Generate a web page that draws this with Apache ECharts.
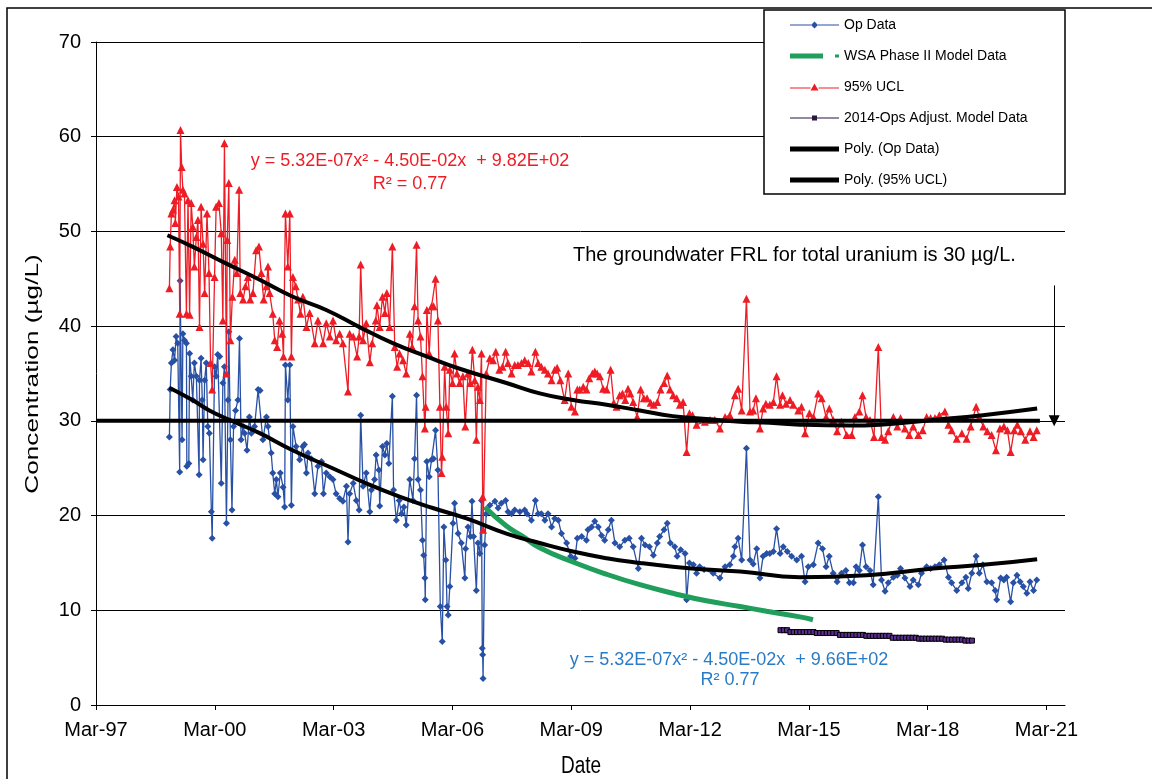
<!doctype html>
<html lang="en">
<head>
<meta charset="UTF-8">
<title>Uranium concentration</title>
<style>
  *{margin:0;padding:0}
  html,body{width:1152px;height:779px;background:#fff;overflow:hidden}
  #chart{width:1152px;height:779px}
</style>
</head>
<body>
<div id="chart"></div>
<script src="https://cdn.jsdelivr.net/npm/echarts@6/dist/echarts.min.js"></script>
<script>
// x values are decimal years, converted to months since Mar-97 for the axis
const xStart = 1997 + 2 / 12;
const xTickLabels = ['Mar-97', 'Mar-00', 'Mar-03', 'Mar-06', 'Mar-09', 'Mar-12', 'Mar-15', 'Mar-18', 'Mar-21'];

const opData = [
  [1999.02,28.3],[1999.04,33.3],[1999.07,36.1],[1999.11,37.5],[1999.15,36.4],[1999.19,38.9],[1999.23,38.2],[1999.28,24.6],[1999.29,44.8],[1999.34,28.0],
  [1999.36,39.2],[1999.40,38.5],[1999.45,38.2],[1999.46,25.2],[1999.51,25.5],[1999.53,37.1],[1999.57,34.7],[1999.61,32.2],[1999.65,36.1],[1999.70,34.7],
  [1999.77,24.3],[1999.78,34.3],[1999.82,36.6],[1999.85,32.2],[1999.87,25.9],[1999.91,34.3],[1999.95,36.1],[1999.99,29.4],[2000.03,28.7],[2000.08,20.4],
  [2000.10,17.6],[2000.16,35.7],[2000.20,34.7],[2000.24,37.0],[2000.29,36.8],[2000.33,23.4],[2000.37,34.0],[2000.41,35.7],[2000.46,19.2],[2000.50,32.2],
  [2000.52,39.4],[2000.56,28.0],[2000.60,20.6],[2000.64,29.4],[2000.69,31.1],[2000.75,32.2],[2000.79,38.7],[2000.83,28.0],[2000.88,29.4],[2000.92,28.7],
  [2000.98,26.9],[2001.04,30.4],[2001.09,28.7],[2001.17,29.4],[2001.26,33.3],[2001.31,33.2],[2001.38,28.0],[2001.47,30.4],[2001.51,29.4],[2001.59,26.6],
  [2001.63,24.5],[2001.68,22.3],[2001.72,23.8],[2001.76,22.0],[2001.82,24.5],[2001.89,23.0],[2001.93,20.9],[2001.95,35.9],[2002.01,32.2],[2002.06,35.9],
  [2002.10,21.1],[2002.14,29.4],[2002.22,27.3],[2002.31,25.9],[2002.39,27.3],[2002.43,27.5],[2002.48,24.5],[2002.52,26.6],[2002.60,26.0],[2002.69,22.3],
  [2002.77,25.2],[2002.86,25.7],[2002.91,22.3],[2002.98,24.5],[2003.07,24.1],[2003.15,23.8],[2003.23,22.3],[2003.32,21.8],[2003.40,21.5],[2003.49,23.1],
  [2003.53,17.2],[2003.57,22.3],[2003.66,23.4],[2003.74,21.6],[2003.81,20.6],[2003.85,30.6],[2003.91,23.1],[2003.99,24.5],[2004.08,20.4],[2004.12,22.7],
  [2004.20,23.8],[2004.24,26.4],[2004.31,24.8],[2004.33,21.0],[2004.40,27.3],[2004.46,26.4],[2004.51,27.6],[2004.56,25.5],[2004.65,32.6],[2004.68,22.7],
  [2004.75,19.5],[2004.82,21.6],[2004.88,20.2],[2004.94,20.9],[2005.00,19.0],[2005.09,23.8],[2005.17,21.6],[2005.21,26.0],[2005.26,32.7],[2005.30,23.8],
  [2005.36,22.7],[2005.41,17.4],[2005.44,15.8],[2005.47,13.4],[2005.48,11.1],[2005.52,25.7],[2005.58,24.1],[2005.64,25.9],[2005.69,26.0],[2005.74,29.0],
  [2005.80,24.8],[2005.86,10.4],[2005.91,6.7],[2005.95,18.8],[2006.00,15.3],[2006.03,10.4],[2006.06,9.5],[2006.10,12.5],[2006.18,19.2],[2006.22,21.3],
  [2006.31,18.1],[2006.39,17.1],[2006.48,13.4],[2006.50,16.5],[2006.56,18.8],[2006.62,17.8],[2006.66,21.5],[2006.70,17.8],[2006.77,12.1],[2006.81,17.1],
  [2006.86,16.0],[2006.90,21.6],[2006.92,6.0],[2006.93,5.3],[2006.94,2.8],[2006.98,16.9],[2007.02,20.2],[2007.11,21.1],[2007.24,21.5],[2007.32,20.8],
  [2007.40,21.3],[2007.51,21.6],[2007.57,20.4],[2007.66,20.2],[2007.74,20.6],[2007.87,20.4],[2007.99,20.6],[2008.05,20.2],[2008.16,19.5],[2008.26,21.6],
  [2008.33,20.2],[2008.41,20.2],[2008.50,19.5],[2008.58,20.2],[2008.67,18.8],[2008.75,19.7],[2008.84,19.5],[2008.92,18.1],[2009.05,17.1],[2009.15,15.7],
  [2009.26,15.5],[2009.32,17.6],[2009.43,17.8],[2009.55,17.4],[2009.59,18.5],[2009.68,18.8],[2009.76,19.4],[2009.85,18.8],[2009.93,17.9],[2010.01,17.4],
  [2010.10,18.5],[2010.18,19.5],[2010.27,17.1],[2010.39,16.7],[2010.52,17.4],[2010.63,17.6],[2010.73,16.7],[2010.86,14.4],[2010.94,17.6],[2011.03,16.9],
  [2011.14,16.7],[2011.24,15.8],[2011.34,17.1],[2011.40,17.8],[2011.51,18.5],[2011.59,19.2],[2011.67,17.1],[2011.78,16.7],[2011.84,15.7],[2011.93,16.4],
  [2012.04,16.0],[2012.08,11.1],[2012.15,15.0],[2012.25,14.8],[2012.33,13.9],[2012.41,14.6],[2012.52,14.3],[2012.75,13.9],[2012.92,13.4],[2013.05,14.6],
  [2013.17,14.8],[2013.26,15.7],[2013.30,16.7],[2013.38,17.6],[2013.47,15.3],[2013.59,27.1],[2013.68,15.3],[2013.76,14.9],[2013.85,16.5],[2013.93,13.4],
  [2014.01,15.7],[2014.10,16.0],[2014.18,16.0],[2014.27,16.2],[2014.35,18.6],[2014.44,16.0],[2014.52,16.7],[2014.62,16.2],[2014.73,15.7],[2014.86,15.3],
  [2014.98,15.7],[2015.07,13.0],[2015.15,14.6],[2015.28,14.8],[2015.40,17.1],[2015.51,16.5],[2015.60,14.6],[2015.68,15.7],[2015.78,13.9],[2015.88,13.0],
  [2015.99,13.9],[2016.10,14.2],[2016.19,12.9],[2016.29,12.9],[2016.36,14.6],[2016.44,14.2],[2016.52,16.9],[2016.61,14.6],[2016.71,14.2],[2016.79,12.7],
  [2016.92,22.0],[2017.00,13.2],[2017.09,12.0],[2017.17,12.9],[2017.30,13.5],[2017.40,13.7],[2017.48,14.4],[2017.59,13.4],[2017.72,12.5],[2017.80,13.2],
  [2017.93,12.7],[2018.01,13.9],[2018.14,14.6],[2018.24,14.4],[2018.35,14.6],[2018.46,14.8],[2018.58,15.3],[2018.69,13.5],[2018.77,12.9],[2018.90,12.1],
  [2019.03,12.9],[2019.13,13.5],[2019.19,12.3],[2019.28,13.9],[2019.39,15.7],[2019.47,13.9],[2019.56,14.8],[2019.66,13.0],[2019.78,12.9],[2019.87,12.1],
  [2019.91,11.1],[2020.01,13.4],[2020.09,13.2],[2020.16,13.5],[2020.26,10.9],[2020.33,12.9],[2020.42,13.7],[2020.50,13.0],[2020.58,12.5],[2020.67,11.8],
  [2020.75,13.0],[2020.84,12.1],[2020.92,13.2]
];

const uclData = [
  [1999.02,44.0],[1999.04,48.4],[1999.07,51.9],[1999.11,52.3],[1999.15,53.3],[1999.17,50.9],[1999.21,54.7],[1999.25,53.7],[1999.28,41.3],[1999.30,60.7],
  [1999.33,56.8],[1999.36,54.4],[1999.40,54.0],[1999.45,41.3],[1999.49,53.3],[1999.53,41.2],[1999.57,53.0],[1999.61,50.5],[1999.65,46.3],[1999.70,49.4],
  [1999.74,51.2],[1999.78,39.9],[1999.82,52.6],[1999.87,48.7],[1999.91,43.5],[1999.97,51.9],[2000.02,45.6],[2000.06,36.1],[2000.10,33.3],[2000.16,45.2],
  [2000.20,52.6],[2000.27,53.0],[2000.33,49.8],[2000.37,40.6],[2000.41,59.3],[2000.46,35.0],[2000.48,49.1],[2000.52,55.1],[2000.56,38.5],[2000.61,43.1],
  [2000.67,47.0],[2000.72,45.6],[2000.78,54.4],[2000.81,43.5],[2000.88,42.8],[2000.94,44.2],[2001.00,45.2],[2001.06,42.8],[2001.13,43.5],[2001.21,48.0],
  [2001.28,48.4],[2001.34,45.6],[2001.40,42.8],[2001.47,44.2],[2001.51,46.3],[2001.55,43.5],[2001.63,41.3],[2001.68,38.5],[2001.74,37.8],[2001.80,40.6],
  [2001.87,39.2],[2001.90,36.8],[2001.95,51.9],[2002.01,46.3],[2002.06,51.9],[2002.10,36.8],[2002.14,45.2],[2002.21,44.2],[2002.27,42.8],[2002.33,41.3],
  [2002.39,43.1],[2002.48,39.9],[2002.56,41.4],[2002.69,38.2],[2002.77,40.6],[2002.90,38.2],[2002.98,40.3],[2003.07,38.9],[2003.15,40.6],[2003.23,38.5],
  [2003.32,39.2],[2003.40,38.2],[2003.53,33.1],[2003.57,39.2],[2003.66,38.9],[2003.76,36.8],[2003.81,38.9],[2003.85,46.5],[2003.91,38.5],[2003.99,40.3],
  [2004.08,36.2],[2004.14,38.2],[2004.23,40.6],[2004.26,42.2],[2004.33,39.9],[2004.40,43.1],[2004.46,41.4],[2004.51,43.5],[2004.58,39.9],[2004.65,48.4],
  [2004.71,37.8],[2004.77,35.7],[2004.83,37.1],[2004.92,36.4],[2005.00,35.0],[2005.09,39.2],[2005.15,37.8],[2005.21,42.1],[2005.26,48.6],[2005.30,40.6],
  [2005.36,38.9],[2005.41,34.7],[2005.47,29.2],[2005.49,31.5],[2005.52,41.7],[2005.58,37.1],[2005.64,42.1],[2005.69,42.1],[2005.74,45.0],[2005.80,40.6],
  [2005.85,31.5],[2005.89,24.5],[2005.91,26.2],[2005.97,35.7],[2006.01,31.5],[2006.06,28.7],[2006.10,35.4],[2006.17,34.0],[2006.22,37.1],[2006.28,35.0],
  [2006.35,34.0],[2006.43,34.7],[2006.49,29.4],[2006.56,35.0],[2006.62,34.0],[2006.67,37.5],[2006.73,34.3],[2006.77,28.0],[2006.81,33.6],[2006.86,32.2],
  [2006.90,37.1],[2006.93,22.0],[2006.94,18.5],[2007.02,35.0],[2007.11,36.6],[2007.19,36.4],[2007.26,37.3],[2007.35,35.4],[2007.43,35.7],[2007.51,37.3],
  [2007.57,36.1],[2007.66,35.0],[2007.74,35.9],[2007.82,35.9],[2007.91,36.1],[2007.99,36.4],[2008.08,36.1],[2008.16,35.2],[2008.26,37.3],[2008.33,36.1],
  [2008.41,35.7],[2008.50,35.4],[2008.58,35.0],[2008.67,34.3],[2008.75,35.4],[2008.81,35.6],[2008.89,34.3],[2009.00,32.2],[2009.09,35.0],[2009.17,31.5],
  [2009.26,31.0],[2009.32,33.3],[2009.38,33.3],[2009.47,33.6],[2009.55,33.3],[2009.62,34.5],[2009.70,35.0],[2009.76,35.2],[2009.82,35.0],[2009.89,34.7],
  [2009.97,33.4],[2010.06,33.3],[2010.16,35.4],[2010.24,31.9],[2010.31,31.5],[2010.39,32.7],[2010.46,32.9],[2010.53,32.2],[2010.60,33.4],[2010.66,32.9],
  [2010.73,32.0],[2010.83,30.4],[2010.92,33.3],[2011.00,32.4],[2011.08,32.4],[2011.17,31.9],[2011.25,31.7],[2011.34,32.0],[2011.42,33.3],[2011.51,34.0],
  [2011.59,34.8],[2011.66,33.3],[2011.74,32.7],[2011.83,32.4],[2011.91,31.7],[2011.99,32.0],[2012.08,26.7],[2012.15,30.8],[2012.23,30.6],[2012.33,29.6],
  [2012.54,29.9],[2012.67,30.1],[2012.79,30.1],[2012.92,29.2],[2013.05,30.4],[2013.17,30.6],[2013.30,32.7],[2013.38,33.4],[2013.47,31.1],[2013.59,42.9],
  [2013.68,31.0],[2013.76,31.1],[2013.83,32.4],[2013.93,29.2],[2014.01,31.3],[2014.08,31.8],[2014.18,31.7],[2014.27,32.0],[2014.35,34.7],[2014.44,31.7],
  [2014.50,32.7],[2014.59,31.8],[2014.69,32.2],[2014.77,31.7],[2014.90,31.1],[2014.98,31.5],[2015.07,28.7],[2015.18,30.8],[2015.28,30.4],[2015.40,32.9],
  [2015.49,32.4],[2015.60,30.4],[2015.68,31.3],[2015.78,30.1],[2015.88,28.9],[2015.99,29.9],[2016.12,28.5],[2016.25,28.5],[2016.33,30.4],[2016.44,31.0],
  [2016.52,32.7],[2016.61,30.4],[2016.71,30.1],[2016.81,28.3],[2016.92,37.8],[2017.00,28.3],[2017.09,28.0],[2017.17,28.9],[2017.30,30.4],[2017.40,29.4],
  [2017.48,30.3],[2017.59,29.2],[2017.70,28.5],[2017.80,29.4],[2017.93,28.5],[2018.04,29.0],[2018.14,30.4],[2018.24,30.3],[2018.35,30.3],[2018.46,30.6],
  [2018.60,31.0],[2018.69,29.6],[2018.77,29.0],[2018.90,28.1],[2019.03,28.7],[2019.15,28.1],[2019.25,29.4],[2019.39,31.5],[2019.47,30.4],[2019.57,29.4],
  [2019.67,28.9],[2019.78,28.5],[2019.89,26.9],[2019.99,29.2],[2020.09,29.4],[2020.18,29.0],[2020.26,26.7],[2020.35,29.0],[2020.43,29.6],[2020.52,28.9],
  [2020.63,28.0],[2020.75,28.9],[2020.84,28.3],[2020.92,29.0]
];

const wsaModel = [
  [2006.98,20.9],[2007.53,18.9],[2007.94,17.8],[2008.37,16.6],[2009.21,15.1],[2010.06,13.8],[2010.90,12.7],
  [2011.73,11.8],[2012.58,11.0],[2013.43,10.4],[2014.10,9.9],[2014.94,9.3],[2015.27,9.0]
];

// 2014-Ops adjust model: monthly values from Jun-2014
const adjStart = 2014.45;
const adjValues = [
  7.9,7.9,7.9,
  7.7,7.7,7.7,7.7,7.7,7.7,7.7,7.7,
  7.6,7.6,7.6,7.6,7.6,7.6,7.6,
  7.4,7.4,7.4,7.4,7.4,7.4,7.4,7.4,
  7.3,7.3,7.3,7.3,7.3,7.3,7.3,7.3,
  7.1,7.1,7.1,7.1,7.1,7.1,7.1,7.1,
  7.0,7.0,7.0,7.0,7.0,7.0,7.0,7.0,
  6.9,6.9,6.9,6.9,6.9,6.9,
  6.8,6.8,6.8
];

const polyOp = [
  [1999.02,33.5],[1999.60,32.2],[2000.03,31.1],[2000.54,30.1],[2001.30,28.7],[2002.13,26.9],[2003.14,25.0],[2003.99,23.4],
  [2004.83,22.0],[2005.67,20.8],[2006.52,19.7],[2007.53,18.1],[2008.37,17.1],[2009.21,16.2],[2010.06,15.5],[2010.90,15.0],
  [2011.73,14.6],[2012.58,14.3],[2013.43,14.1],[2014.94,13.5],[2016.63,13.7],[2018.31,14.4],[2019.56,14.8],[2020.93,15.4]
];

const polyUcl = [
  [1998.97,49.6],[1999.60,48.4],[2000.46,46.6],[2001.30,44.9],[2002.14,43.1],[2002.98,41.7],[2003.82,39.9],[2004.66,38.2],
  [2005.51,36.8],[2006.35,35.5],[2007.53,34.0],[2008.37,32.9],[2009.21,32.2],[2010.06,31.7],[2010.90,31.1],[2011.73,30.5],
  [2012.58,30.2],[2013.43,29.9],[2014.18,29.8],[2014.94,29.6],[2016.20,29.5],[2016.96,29.6],[2018.30,30.1],[2019.56,30.6],[2020.93,31.3]
];

const frlLevel = 30;
const frlSpan = [1997.17, 2021.0];
const arrowYear = 2021.36;
const arrowTop = 44.3;
</script>
<script>
const toMonths = d => [(d[0] - xStart) * 12, d[1]];
const adjData = adjValues.map((v, i) => [adjStart + i / 12, v]);
const tickMonths = xTickLabels.map((_, i) => i * 36);

const font = "'Liberation Sans', Arial, sans-serif";
const chart = echarts.init(document.getElementById('chart'), null, {renderer: 'canvas'});

// legend icons, drawn in a 49px wide box
const icons = {
  op: 'path://M0,3H21V4H0Z M24.5,0L28,3.5L24.5,7L21,3.5Z M28,3H49V4H28Z',
  wsa: 'path://M0,0H33V5H0Z M45,1H49V4H45Z',
  ucl: 'path://M0,4H20.5V5H0Z M24.5,0L28.5,7H20.5Z M28.5,4H49V5H28.5Z',
  adj: 'path://M0,2H22V3H0Z M22,0H27V5H22Z M27,2H49V3H27Z',
  poly: 'path://M0,0H49V5H0Z'
};

const option = {
  animation: false,
  backgroundColor: '#fff',
  grid: {left: 96, top: 42, right: 87, bottom: 74, outerBoundsMode: 'none', containLabel: false},
  xAxis: {
    type: 'value', min: 0, max: 293.6, interval: 36,
    axisLine: {onZero: false, lineStyle: {color: '#000', width: 1}},
    axisTick: {show: true, length: 5, lineStyle: {color: '#000'}, customValues: tickMonths},
    axisLabel: {
      fontFamily: font, fontSize: 20, color: '#000', margin: 15,
      customValues: tickMonths,
      formatter: v => xTickLabels[Math.round(v / 36)] || ''
    },
    splitLine: {show: false}
  },
  yAxis: {
    type: 'value', min: 0, max: 70, interval: 10,
    axisLine: {show: true, lineStyle: {color: '#000', width: 1}},
    axisTick: {show: true, length: 5, lineStyle: {color: '#000'}},
    axisLabel: {fontFamily: font, fontSize: 20, color: '#000', margin: 15},
    splitLine: {show: true, lineStyle: {color: '#000', width: 1}}
  },
  legend: {
    orient: 'vertical', left: 790, top: 18, padding: 0, z: 10,
    itemWidth: 49, itemHeight: 12, itemGap: 17,
    textStyle: {fontFamily: font, fontSize: 14, color: '#000', lineHeight: 14},
    data: [
      {name: 'Op Data', icon: icons.op, itemStyle: {borderWidth: 0}},
      {name: 'WSA Phase II Model Data', icon: icons.wsa, itemStyle: {borderWidth: 0}},
      {name: '95% UCL', icon: icons.ucl, itemStyle: {borderWidth: 0}},
      {name: '2014-Ops Adjust. Model Data', icon: icons.adj, itemStyle: {color: '#2b1740', borderWidth: 0}},
      {name: 'Poly. (Op Data)', icon: icons.poly, itemStyle: {borderWidth: 0}},
      {name: 'Poly. (95% UCL)', icon: icons.poly, itemStyle: {borderWidth: 0}}
    ]
  },
  graphic: [
    {type: 'rect', z: 8, shape: {x: 7, y: 8, width: 1200, height: 800},
      style: {fill: 'none', stroke: '#000', lineWidth: 1.5}, silent: true},
    {type: 'rect', z: 9, shape: {x: 764, y: 10, width: 301, height: 184},
      style: {fill: '#fff', stroke: '#000', lineWidth: 1.5}, silent: true},
    {type: 'text', z: 9, x: 33, y: 374, rotation: Math.PI / 2, scaleX: 1.38,
      style: {text: 'Concentration (\u00b5g/L)', fill: '#000', font: '19px ' + font, align: 'center', verticalAlign: 'middle'}},
    {type: 'text', z: 9, x: 581, y: 766, scaleY: 1.3,
      style: {text: 'Date', fill: '#000', font: '19px ' + font, align: 'center', verticalAlign: 'middle'}},
    {type: 'text', z: 9, x: 410, y: 161,
      style: {text: 'y = 5.32E-07x\u00b2 - 4.50E-02x  + 9.82E+02', fill: '#ee1c25', font: '18px ' + font, align: 'center', verticalAlign: 'middle'}},
    {type: 'text', z: 9, x: 410, y: 184,
      style: {text: 'R\u00b2 = 0.77', fill: '#ee1c25', font: '18px ' + font, align: 'center', verticalAlign: 'middle'}},
    {type: 'text', z: 9, x: 729, y: 660,
      style: {text: 'y = 5.32E-07x\u00b2 - 4.50E-02x  + 9.66E+02', fill: '#2a7bc6', font: '18px ' + font, align: 'center', verticalAlign: 'middle'}},
    {type: 'text', z: 9, x: 730, y: 680,
      style: {text: 'R\u00b2 0.77', fill: '#2a7bc6', font: '18px ' + font, align: 'center', verticalAlign: 'middle'}},
    {type: 'text', z: 9, x: 573, y: 255,
      style: {text: 'The groundwater FRL for total uranium is 30 \u00b5g/L.', fill: '#000', font: '20px ' + font, align: 'left', verticalAlign: 'middle'}}
  ],
  series: [
    {
      name: 'Op Data', type: 'line', data: opData.map(toMonths),
      symbol: 'diamond', symbolSize: 7, showAllSymbol: true,
      lineStyle: {color: '#2850a4', width: 1.3}, itemStyle: {color: '#2850a4'}, z: 2
    },
    {
      name: 'WSA Phase II Model Data', type: 'line', data: wsaModel.map(toMonths),
      symbol: 'none', smooth: true,
      lineStyle: {color: '#1f9e5c', width: 5}, itemStyle: {color: '#1f9e5c'}, z: 3
    },
    {
      name: '95% UCL', type: 'line', data: uclData.map(toMonths),
      symbol: 'triangle', symbolSize: 8, showAllSymbol: true,
      lineStyle: {color: '#ee1c25', width: 1.3}, itemStyle: {color: '#ee1c25'}, z: 4
    },
    {
      name: '2014-Ops Adjust. Model Data', type: 'line', data: adjData.map(toMonths),
      symbol: 'rect', symbolSize: 5, showAllSymbol: true,
      lineStyle: {color: '#000', width: 1}, itemStyle: {color: '#5b2d8e', borderColor: '#000', borderWidth: 1}, z: 5
    },
    {
      name: 'FRL', type: 'line', data: frlSpan.map(y => toMonths([y, frlLevel])),
      symbol: 'none', lineStyle: {color: '#000', width: 4}, z: 5,
      markLine: {
        silent: true, symbol: ['none', 'triangle'], symbolSize: 11,
        label: {show: false},
        lineStyle: {color: '#000', width: 1, type: 'solid'},
        data: [[{coord: toMonths([arrowYear, arrowTop])}, {coord: toMonths([arrowYear, frlLevel])}]]
      }
    },
    {
      name: 'Poly. (Op Data)', type: 'line', data: polyOp.map(toMonths),
      symbol: 'none', smooth: true, lineStyle: {color: '#000', width: 4}, itemStyle: {color: '#000'}, z: 6
    },
    {
      name: 'Poly. (95% UCL)', type: 'line', data: polyUcl.map(toMonths),
      symbol: 'none', smooth: true, lineStyle: {color: '#000', width: 4}, itemStyle: {color: '#000'}, z: 6
    }
  ]
};
chart.setOption(option);
</script>
</body>
</html>
